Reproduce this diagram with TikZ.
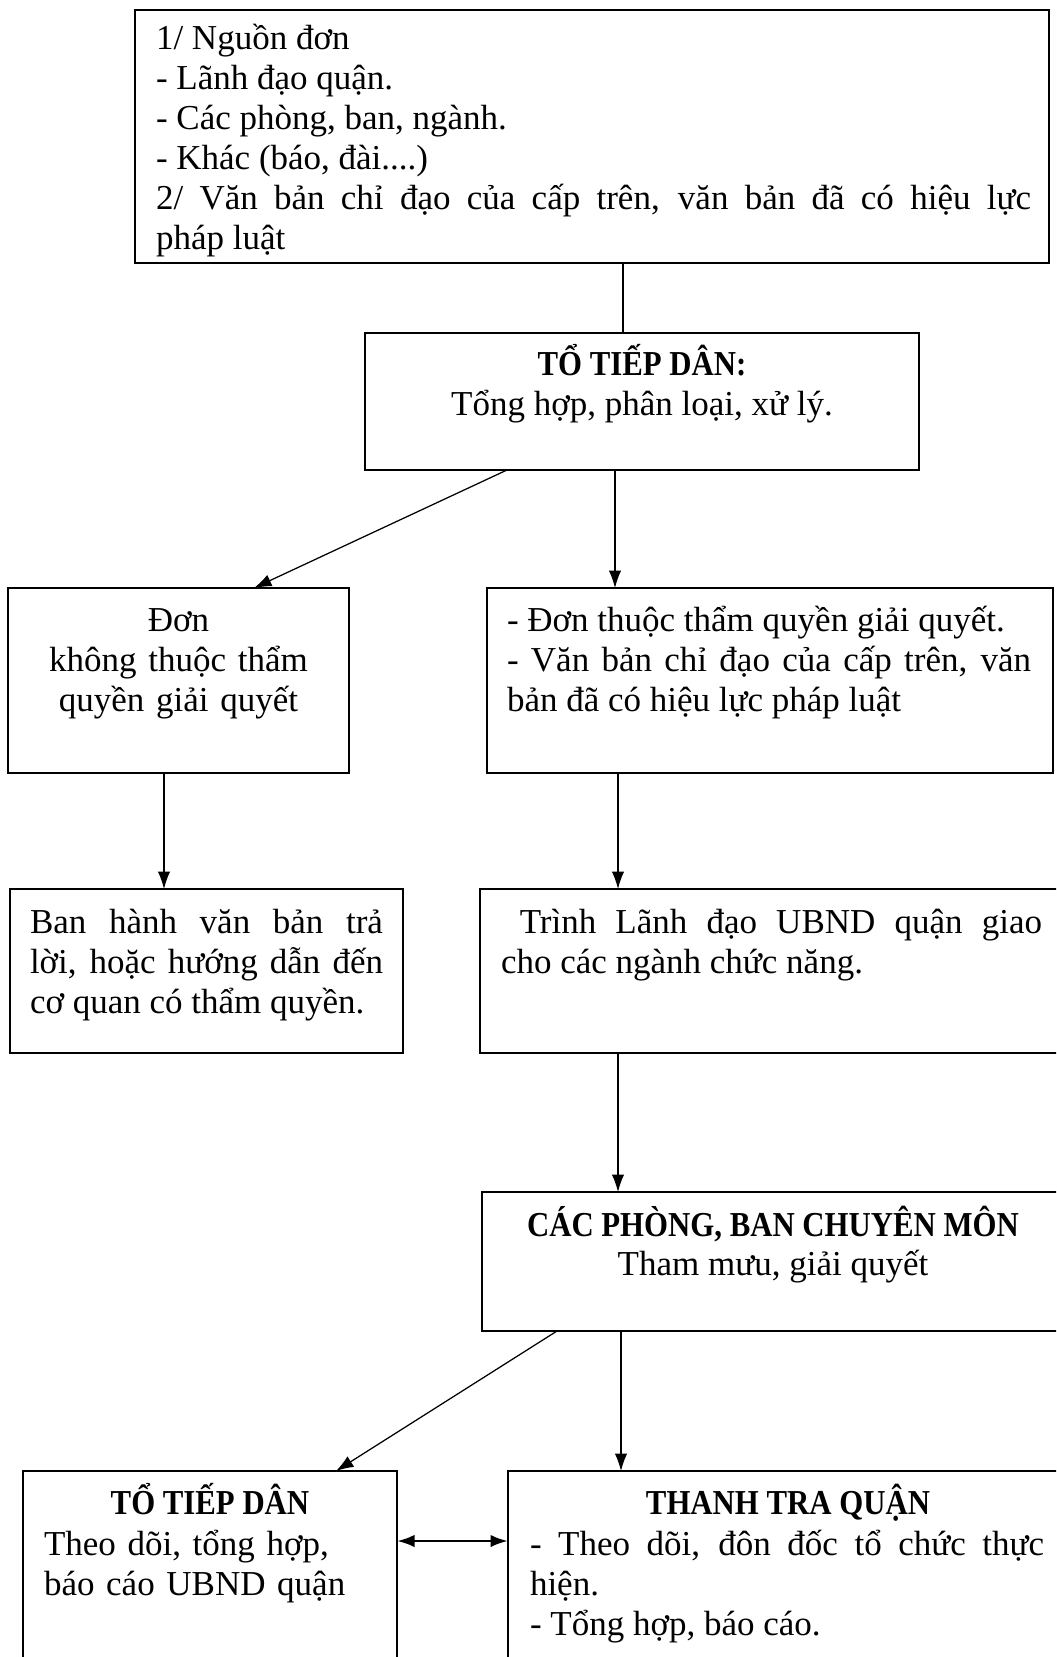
\documentclass[tikz,border=0pt]{standalone}
\usepackage{fontspec}
\setmainfont{Liberation Serif}
\newfontfamily\hdfont{Liberation Serif}[FakeStretch=0.88]
\usetikzlibrary{arrows.meta}
\hyphenpenalty=10000
\exhyphenpenalty=10000
\tolerance=9999
\setlength{\parindent}{0pt}
\tikzset{
  box/.style={draw, line width=0.8pt, inner sep=0pt, outer sep=0pt, anchor=north west},
  txt/.style={inner sep=0pt, outer sep=0pt, font=\fontsize{14}{16}\selectfont},
  ltxt/.style={txt, anchor=base west, align=justify},
  lltxt/.style={txt, anchor=base west, align=left},
  ctxt/.style={txt, anchor=base, align=center},
  hd/.style={inner sep=0pt, outer sep=0pt, anchor=base, font=\fontsize{14}{16}\selectfont\hdfont\bfseries},
  link/.style={line width=0.5pt},
  arr/.style={line width=0.5pt, -{Latex[length=7pt,width=5pt]}},
  dbl/.style={line width=1.1pt, {Latex[length=7pt,width=5pt]}-{Latex[length=7pt,width=5pt]}}
}
\begin{document}
\begin{tikzpicture}[x=0.4pt,y=-0.4pt]
\useasboundingbox (0,0) rectangle (1056,1657);
\clip (0,0) rectangle (1056,1657);
\fill[white] (0,0) rectangle (1056,1657);

% boxes
\node[box, minimum width=365.6pt, minimum height=101.2pt] (src) at (135,10) {};
\node[box, minimum width=221.6pt, minimum height=54.8pt] (ttd) at (365,333) {};
\node[box, minimum width=136.4pt, minimum height=74pt] (don) at (8,588) {};
\node[box, minimum width=226.4pt, minimum height=74pt] (dtq) at (487,588) {};
\node[box, minimum width=157.2pt, minimum height=65.6pt] (bh) at (10,889) {};
\node[box, minimum width=236pt, minimum height=65.6pt] (trinh) at (480,889) {};
\node[box, minimum width=232.8pt, minimum height=55.6pt] (cpb) at (482,1192) {};
\node[box, minimum width=149.6pt, minimum height=91.6pt] (ttdb) at (23,1471) {};
\node[box, minimum width=224pt, minimum height=91.6pt] (ttq) at (508,1471) {};

% texts
\node[ltxt, text width=350pt] (tsrc) at (156,50) {1/ Nguồn đơn\\- Lãnh đạo quận.\\- Các phòng, ban, ngành.\\- Khác (báo, đài....)\\2/ Văn bản chỉ đạo của cấp trên, văn bản đã có hiệu lực\linebreak pháp luật};

\node[hd] (httd) at (642,376) {TỔ TIẾP DÂN:};
\node[ctxt] (tttd) at (642,416) {Tổng hợp, phân loại, xử lý.};

\node[ctxt, text width=130pt] (tdon) at (178.5,631) {Đơn\\không thuộc thẩm\\quyền giải quyết};

\node[ltxt, text width=209.6pt] (tdtq) at (507,631) {- Đơn thuộc thẩm quyền giải quyết.\\- Văn bản chỉ đạo của cấp trên, văn\linebreak bản đã có hiệu lực pháp luật};

\node[ltxt, text width=141.2pt] (tbh) at (30,933) {Ban hành văn bản trả\linebreak lời, hoặc hướng dẫn đến\linebreak cơ quan có thẩm quyền.};

\node[ltxt, text width=216.4pt] (ttrinh) at (501,933) {\hspace*{7.5pt}Trình Lãnh đạo UBND quận giao\linebreak cho các ngành chức năng.};

\node[hd] (hcpb) at (773,1236) {CÁC PHÒNG, BAN CHUYÊN MÔN};
\node[ctxt] (tcpb) at (773,1275) {Tham mưu, giải quyết};

\node[hd] (httdb) at (210,1514) {TỔ TIẾP DÂN};
\node[lltxt, text width=140pt] (tttdb) at (44,1555) {Theo dõi, tổng hợp,\\báo cáo UBND quận};

\node[hd] (httq) at (788,1514) {THANH TRA QUẬN};
\node[ltxt, text width=205.6pt] (tttq) at (530,1555) {- Theo dõi, đôn đốc tổ chức thực\linebreak hiện.\\- Tổng hợp, báo cáo.};

% connectors
\draw[link] (623,0 |- src.south) -- (623,0 |- ttd.north);
\draw[arr] (507,0 |- ttd.south) -- (254,0 |- don.north);
\draw[arr] (615,0 |- ttd.south) -- (615,0 |- dtq.north);
\draw[arr] (164,0 |- don.south) -- (164,0 |- bh.north);
\draw[arr] (618,0 |- dtq.south) -- (618,0 |- trinh.north);
\draw[arr] (618,0 |- trinh.south) -- (618,0 |- cpb.north);
\draw[arr] (557,0 |- cpb.south) -- (336,0 |- ttdb.north);
\draw[arr] (621,0 |- cpb.south) -- (621,0 |- ttq.north);
\draw[dbl] (ttdb.east |- 0,1541) -- (ttq.west |- 0,1541);
\end{tikzpicture}
\end{document}
